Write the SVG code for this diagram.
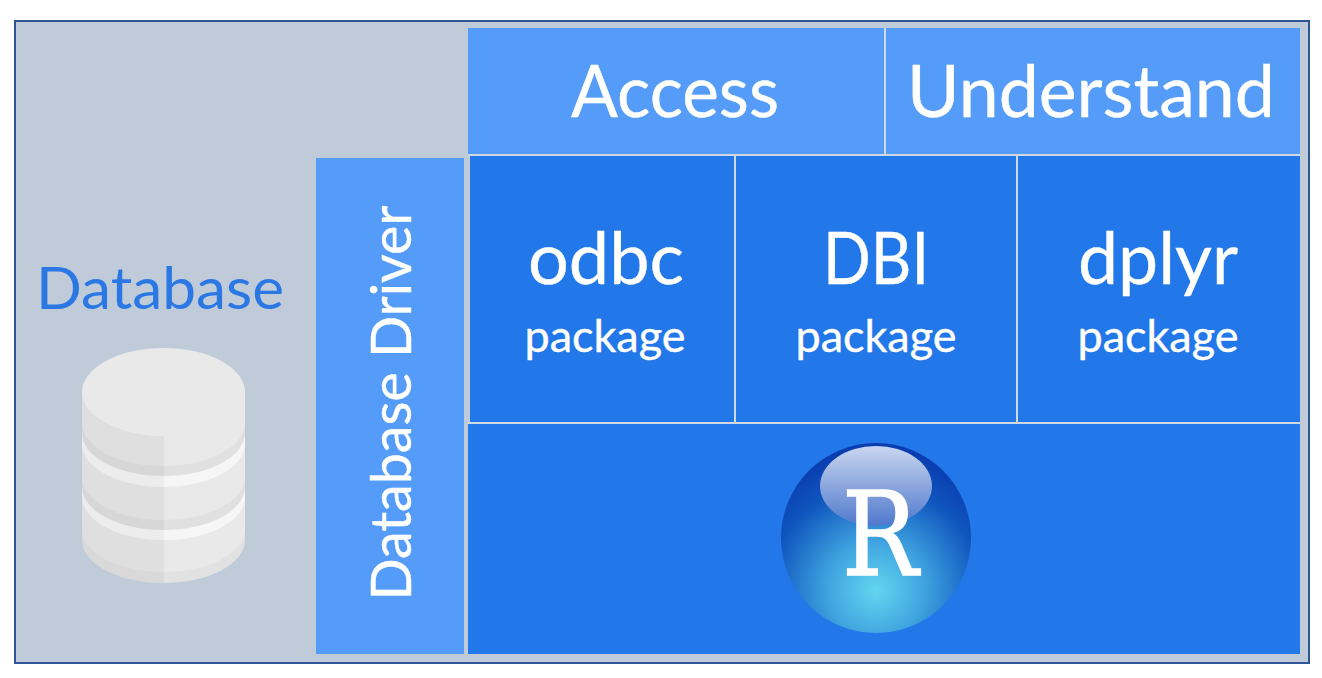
<svg xmlns="http://www.w3.org/2000/svg" width="1322" height="678" viewBox="0 0 1322 678">
<style>
.t{font-family:"Lato","Noto Sans",sans-serif;fill:#fff;text-anchor:middle;stroke:#fff;stroke-width:.4}
.lt{fill:#559CF9}.dk{fill:#2277E9}
.big{font-size:72px}.sm{font-size:44px}
.ln{stroke:#CFD9E6;stroke-width:2;fill:none}
</style>
<defs>
<radialGradient id="glow" gradientUnits="userSpaceOnUse" cx="876" cy="590" r="140">
<stop offset="0" stop-color="#62D6F0"/><stop offset=".35" stop-color="#3FA3DF"/><stop offset=".75" stop-color="#0F55BE"/><stop offset="1" stop-color="#0A3DB0"/>
</radialGradient>
<linearGradient id="gloss" x1="0" y1="0" x2="0" y2="1">
<stop offset="0" stop-color="#C9D6F0"/><stop offset="1" stop-color="#4F78CC"/>
</linearGradient>
<clipPath id="sil"><path d="M82,392V540A81.5,43 0 0 0 245,540V392Z"/></clipPath>
<filter id="soft" x="-5%" y="-5%" width="110%" height="110%"><feGaussianBlur stdDeviation=".7"/></filter>
</defs>
<rect id="frame" x="15" y="21" width="1294" height="642" fill="#BFCBD9" stroke="#2F5597" stroke-width="2"/>
<g id="database">
<text x="160" y="309" font-family="Lato,'Noto Sans',sans-serif" font-size="58" fill="#2B78E4" text-anchor="middle" textLength="248" lengthAdjust="spacingAndGlyphs">Database</text>
<g filter="url(#soft)">
<path d="M82,392V540A81.5,43 0 0 0 245,540V392Z" fill="#E2E2E2"/>
<path d="M82,392V529A81.5,43 0 0 0 245,529V392Z" fill="#E9E9E9"/>
<path d="M82,392V497A81.5,43 0 0 0 245,497V392Z" fill="#F6F6F6"/>
<path d="M82,392V487A81.5,43 0 0 0 245,487V392Z" fill="#E0E0E0"/>
<path d="M82,392V477A81.5,43 0 0 0 245,477V392Z" fill="#E9E9E9"/>
<path d="M82,392V444A81.5,43 0 0 0 245,444V392Z" fill="#F6F6F6"/>
<path d="M82,392V433A81.5,43 0 0 0 245,433V392Z" fill="#E0E0E0"/>
<path d="M82,392V423A81.5,43 0 0 0 245,423V392Z" fill="#E9E9E9"/>
<rect x="82" y="392" width="82" height="192" fill="#000" opacity=".04" clip-path="url(#sil)"/>
<ellipse cx="163.5" cy="392" rx="81.5" ry="44" fill="#E9E9E9"/>
</g>
</g>
<g id="driver">
<rect class="lt" x="316" y="158" width="148" height="496"/>
<text class="t" transform="translate(411,403) rotate(-90)" textLength="395" lengthAdjust="spacingAndGlyphs" style="font-size:56px">Database Driver</text>
</g>
<g id="access"><rect class="lt" x="468" y="28" width="416" height="126"/><text class="t big" x="675" y="117" textLength="208" lengthAdjust="spacingAndGlyphs">Access</text></g>
<g id="understand"><rect class="lt" x="886" y="28" width="414" height="126"/><text class="t big" x="1091" y="117" textLength="368" lengthAdjust="spacingAndGlyphs">Understand</text></g>
<g id="odbc"><rect class="dk" x="470" y="156" width="264" height="266"/><text class="t big" x="606" y="284" textLength="156" lengthAdjust="spacingAndGlyphs">odbc</text><text class="t sm" x="605" y="352" textLength="161" lengthAdjust="spacingAndGlyphs">package</text></g>
<g id="dbi"><rect class="dk" x="736" y="156" width="280" height="266"/><text class="t big" x="876" y="284" textLength="106" lengthAdjust="spacingAndGlyphs">DBI</text><text class="t sm" x="876" y="352" textLength="161" lengthAdjust="spacingAndGlyphs">package</text></g>
<g id="dplyr"><rect class="dk" x="1018" y="156" width="282" height="266"/><text class="t big" x="1158" y="284" textLength="160" lengthAdjust="spacingAndGlyphs">dplyr</text><text class="t sm" x="1158" y="352" textLength="161" lengthAdjust="spacingAndGlyphs">package</text></g>
<g id="r">
<rect class="dk" x="468" y="424" width="832" height="230"/>
<circle cx="876" cy="538" r="95" fill="url(#glow)"/>
<ellipse cx="876" cy="486" rx="56" ry="40" fill="url(#gloss)"/>
<text x="880" y="575" font-family="'DejaVu Serif',serif" font-size="116" fill="#fff" stroke="#fff" stroke-width="1.5" text-anchor="middle" textLength="76" lengthAdjust="spacingAndGlyphs">R</text>
</g>
<g id="connectors" class="ln">
<path d="M468,155H1300M885,28V154M735,156V422M1017,156V422M468,423H1300"/>
</g>
</svg>
